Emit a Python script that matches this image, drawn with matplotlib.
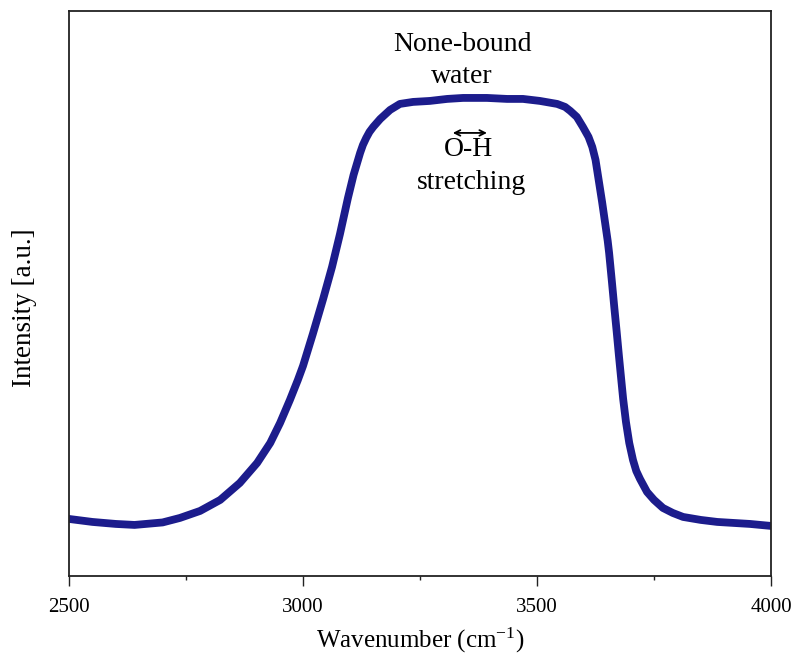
import matplotlib
matplotlib.use("Agg")
import matplotlib.pyplot as plt
from matplotlib.ticker import MultipleLocator

plt.rcParams['font.family'] = ['Liberation Serif', 'DejaVu Serif']
plt.rcParams['mathtext.fontset'] = 'custom'
plt.rcParams['mathtext.rm'] = 'Liberation Serif'
plt.rcParams['mathtext.it'] = 'Liberation Serif:italic'

# Wavenumber (cm^-1) and intensity (a.u.)
wavenumber = [2500, 2550, 2600, 2640, 2700, 2737, 2780, 2823, 2865, 2902,
              2930, 2951, 2972, 2989, 3000, 3021, 3043, 3062, 3079, 3096,
              3108, 3115, 3122, 3128, 3135, 3142, 3150, 3165, 3186, 3207,
              3235, 3271, 3308, 3342, 3393, 3436, 3470, 3506, 3543, 3560,
              3571, 3585, 3598, 3610, 3618, 3625, 3630, 3635, 3639, 3643,
              3647, 3651, 3654, 3660, 3665, 3670, 3675, 3680, 3684, 3690,
              3697, 3705, 3712, 3720, 3735, 3750, 3769, 3790, 3812, 3850,
              3885, 3955, 4000]
intensity = [0.57, 0.54, 0.52, 0.51, 0.535, 0.58, 0.65, 0.76, 0.93, 1.13,
             1.33, 1.53, 1.76, 1.96, 2.10, 2.42, 2.77, 3.09, 3.42, 3.78,
             4.01, 4.12, 4.23, 4.31, 4.38, 4.44, 4.49, 4.57, 4.66, 4.72,
             4.74, 4.75, 4.77, 4.78, 4.78, 4.77, 4.77, 4.75, 4.72, 4.69,
             4.65, 4.59, 4.49, 4.39, 4.29, 4.16, 4.01, 3.86, 3.74, 3.61,
             3.48, 3.35, 3.23, 2.94, 2.69, 2.45, 2.20, 1.96, 1.77, 1.54,
             1.33, 1.16, 1.05, 0.97, 0.84, 0.76, 0.68, 0.63, 0.59, 0.56,
             0.54, 0.52, 0.50]

x_ticks = [2500, 3000, 3500, 4000]

fig = plt.figure(figsize=(7.94, 6.62), dpi=100)
ax = fig.add_axes([0.0869, 0.130, 0.8842, 0.8535])

ax.plot(wavenumber, intensity, color='#1c1c8c', linewidth=5.6,
        solid_capstyle='round', solid_joinstyle='round')

ax.set_xlim(2500, 4000)
ax.set_ylim(0, 5.65)
ax.set_xticks(x_ticks)
ax.set_xticklabels([str(t) for t in x_ticks])
ax.xaxis.set_minor_locator(MultipleLocator(250))
ax.set_yticks([])
ax.tick_params(axis='x', which='major', direction='out', length=7, width=1.0,
               labelsize=15, pad=9, color='#222222')
ax.tick_params(axis='x', which='minor', direction='out', length=3, width=1.0,
               color='#222222')
for s in ax.spines.values():
    s.set_linewidth(1.3)
    s.set_color('#222222')

ax.set_xlabel(r'Wavenumber (cm$^{\mathrm{-1}}$)', fontsize=18, labelpad=6)
ax.set_ylabel('Intensity [a.u.]', fontsize=19.5)
ax.yaxis.set_label_coords(-0.045, 0.474)

ax.text(3340, 5.31, 'None-bound', ha='center', va='center', fontsize=20)
ax.text(3340, 4.99, 'water', ha='center', va='center', fontsize=20)
ax.annotate('', xy=(3320, 4.43), xytext=(3393, 4.43),
            arrowprops=dict(arrowstyle='<->', color='black', lw=1.3,
                            shrinkA=0, shrinkB=0, mutation_scale=10))
ax.text(3353, 4.26, 'O-H', ha='center', va='center', fontsize=20)
ax.text(3361, 3.93, 'stretching', ha='center', va='center', fontsize=20)

fig.savefig('out.png', dpi=100)
